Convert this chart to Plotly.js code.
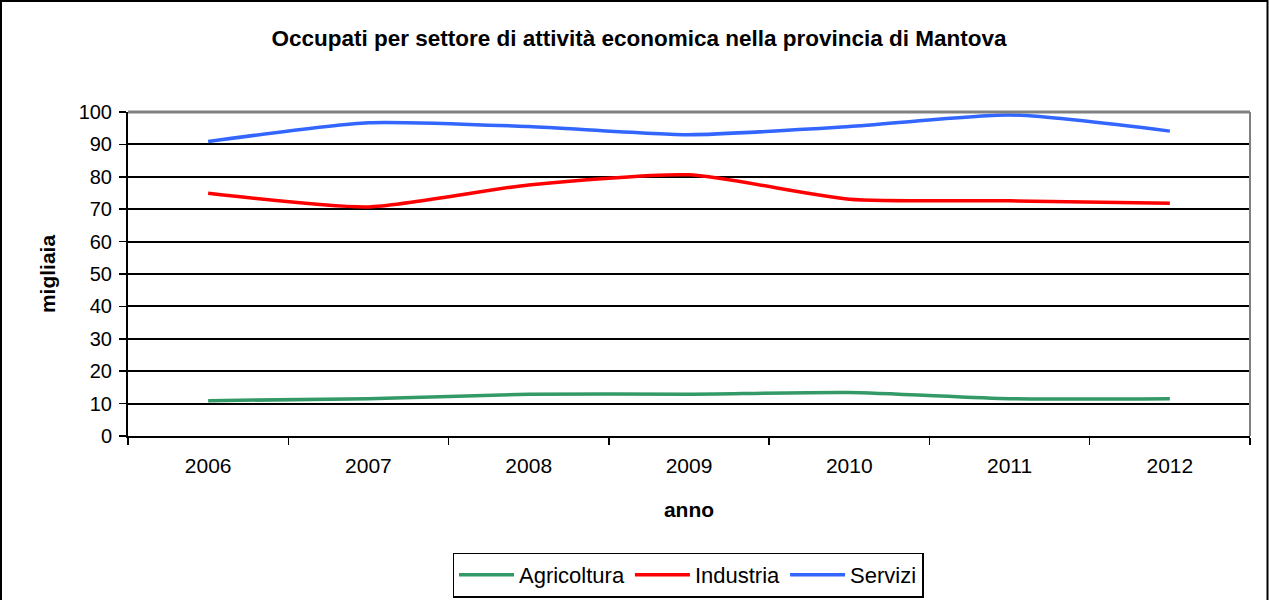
<!DOCTYPE html>
<html>
<head>
<meta charset="utf-8">
<script src="https://cdn.plot.ly/plotly-3.0.1.min.js"></script>
<style>
html,body{margin:0;padding:0;background:#fff;}
#chart{width:1269px;height:600px;}
</style>
</head>
<body>
<div id="chart"></div>
<script>
const years = ["2006","2007","2008","2009","2010","2011","2012"];
const agricoltura = [10.9, 11.5, 12.9, 12.9, 13.4, 11.5, 11.5];
const industria = [74.9, 70.7, 77.5, 80.6, 73.1, 72.6, 71.8];
const servizi = [90.9, 96.7, 95.5, 93.0, 95.5, 99.1, 94.1];

const L = 128, R = 1250, T = 112, B = 436, W = 1269, H = 600;
const pw = R - L, ph = B - T;

function tr(name, y, color) {
  return {x: years, y: y, name: name, type: 'scatter', mode: 'lines',
    line: {color: color, width: 3.5, shape: 'spline', smoothing: 0.6}};
}

const data = [
  tr('Agricoltura', agricoltura, '#339966'),
  tr('Industria', industria, '#FF0000'),
  tr('Servizi', servizi, '#3366FF')
];

const font = {family: 'Liberation Sans, Arial, sans-serif', color: '#000'};

const layout = {
  width: W, height: H,
  margin: {l: L, r: W - R, t: T, b: H - B, pad: 0},
  paper_bgcolor: '#fff', plot_bgcolor: '#fff',
  font: Object.assign({size: 20}, font),
  title: {text: '<b>Occupati per settore di attività economica nella provincia di Mantova</b>',
    font: Object.assign({size: 22.5}, font), xref: 'container', yref: 'container',
    x: 639 / W, xanchor: 'center', y: 1 - 38 / H, yanchor: 'middle'},
  xaxis: {type: 'category', range: [-0.5, 6.5], showgrid: false, showline: true,
    linecolor: '#000', linewidth: 2, ticks: 'outside', ticklen: 7, tickwidth: 1.5,
    tickcolor: '#000', tickson: 'boundaries', tickfont: Object.assign({size: 21}, font),
    ticklabelstandoff: 10,
    title: {text: '<b>anno</b>', font: Object.assign({size: 21}, font), standoff: 26},
    zeroline: false, fixedrange: true},
  yaxis: {range: [0, 100], dtick: 10, tick0: 0, showgrid: true, gridcolor: '#000',
    gridwidth: 2, showline: true, linecolor: '#000', linewidth: 2, ticks: 'outside',
    ticklen: 7, tickwidth: 1.5, tickcolor: '#000', tickfont: Object.assign({size: 20}, font),
    ticklabelstandoff: 3,
    title: {text: '<b>migliaia</b>', font: Object.assign({size: 21}, font), standoff: 17},
    zeroline: false, fixedrange: true},
  showlegend: true,
  legend: {orientation: 'h', x: 688 / W, xref: 'container', xanchor: 'center',
    y: 1 - 575 / H, yref: 'container', yanchor: 'middle',
    bordercolor: '#000', borderwidth: 1.5, bgcolor: '#fff', itemwidth: 55,
    font: Object.assign({size: 22}, font), tracegroupgap: 0},
  shapes: [
    {type: 'line', xref: 'paper', yref: 'paper', x0: 0, x1: 1, y0: 1, y1: 1,
      line: {color: '#808080', width: 3}},
    {type: 'line', xref: 'paper', yref: 'paper', x0: 1, x1: 1, y0: 0, y1: 1,
      line: {color: '#808080', width: 2}},
    {type: 'rect', xref: 'paper', yref: 'paper',
      x0: (1 - L) / pw, x1: (W - 1.5 - L) / pw,
      y0: (B - (H + 5)) / ph, y1: (B - 1) / ph,
      line: {color: '#000', width: 2}}
  ]
};

Plotly.newPlot('chart', data, layout, {staticPlot: true, displayModeBar: false});
</script>
</body>
</html>
